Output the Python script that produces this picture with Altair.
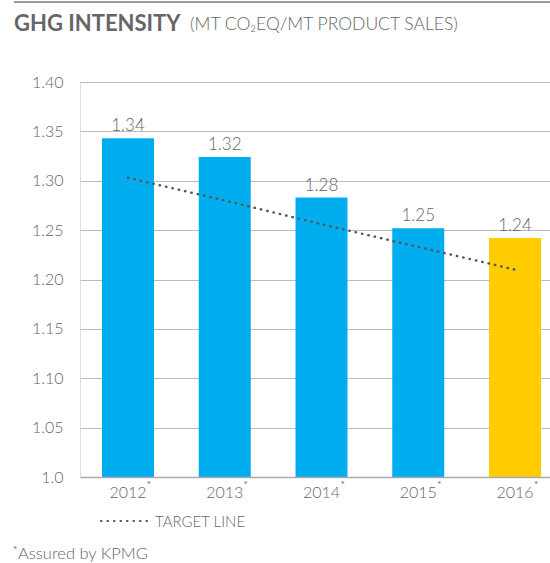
import altair as alt
import pandas as pd

years = ["2012", "2013", "2014", "2015", "2016"]
intensity = [1.343, 1.324, 1.283, 1.252, 1.242]
target = [1.303, 1.280, 1.256, 1.233, 1.210]
highlight = ["past", "past", "past", "past", "latest"]
y_ticks = [1.0, 1.05, 1.10, 1.15, 1.20, 1.25, 1.30, 1.35, 1.40]

df = pd.DataFrame({"year": years, "value": intensity, "target": target, "kind": highlight})

FONT = "Lato"
GREY = "#666666"
W = 300

xscale = alt.Scale(domain=years, paddingInner=0.4625, paddingOuter=0.16, align=0.71)
yscale = alt.Scale(domain=[1.0, 1.40], zero=False, nice=False)

base = alt.Chart(df)

bars = base.mark_bar().encode(
    x=alt.X("year:N", scale=xscale, sort=years,
            axis=alt.Axis(title=None, labelFont=FONT, labelFontSize=16, labelColor=GREY,
                          labelFontWeight=W,
                          labelAngle=0, ticks=False, domain=True, domainColor="#aaaaaa",
                          domainWidth=1.5, labelPadding=7, grid=False, zindex=1)),
    y=alt.Y("value:Q", scale=yscale,
            axis=alt.Axis(title=None, values=y_ticks, labelFont=FONT, labelFontSize=16,
                          labelFontWeight=W,
                          labelColor=GREY, ticks=False, domain=False, gridColor="#bbbbbb",
                          gridWidth=1.2, labelPadding=17,
                          labelExpr="datum.value == 1 ? '1.0' : format(datum.value, '.2f')")),
    y2=alt.datum(1.0),
    color=alt.Color("kind:N", scale=alt.Scale(domain=["past", "latest"], range=["#00AEEF", "#FFCC00"]),
                    legend=None),
)

labels = base.mark_text(font=FONT, fontSize=17, fontWeight=W, color=GREY, baseline="alphabetic", dy=-7).encode(
    x=alt.X("year:N", scale=xscale, sort=years),
    y=alt.Y("value:Q", scale=yscale),
    text=alt.Text("value:Q", format=".2f"),
)

stars = base.mark_text(font=FONT, fontSize=10, color=GREY, baseline="top", dx=21).encode(
    x=alt.X("year:N", scale=xscale, sort=years),
    y=alt.value(398),
    text=alt.value("*"),
)

tline = base.mark_line(color="#555555", strokeWidth=2.4, strokeDash=[0.5, 6], strokeCap="round").encode(
    x=alt.X("year:N", scale=xscale, sort=years),
    y=alt.Y("target:Q", scale=yscale),
)

one = pd.DataFrame({"a": [0]})
o = alt.Chart(one)

top_rule = o.mark_rule(color="#9a9a9a", strokeWidth=2).encode(
    x=alt.value(-66), x2=alt.value(470), y=alt.value(-80))
title1 = o.mark_text(font=FONT, fontSize=22, fontWeight="bold", color=GREY, align="left",
                     baseline="alphabetic").encode(x=alt.value(-66), y=alt.value(-51),
                                                   text=alt.value("GHG INTENSITY"))
title2 = o.mark_text(font=FONT, fontSize=17.5, fontWeight=W, color=GREY, align="left",
                     baseline="alphabetic").encode(x=alt.value(110), y=alt.value(-52),
                                                   text=alt.value("(MT CO₂EQ/MT PRODUCT SALES)"))
leg_line = o.mark_rule(color="#555555", strokeWidth=2.2, strokeDash=[0.5, 6], strokeCap="round").encode(
    x=alt.value(21), x2=alt.value(72), y=alt.value(439))
leg_text = o.mark_text(font=FONT, fontSize=15, fontWeight=W, color=GREY, align="left", baseline="middle").encode(
    x=alt.value(75), y=alt.value(440), text=alt.value("TARGET LINE"))
foot_star = o.mark_text(font=FONT, fontSize=10, color=GREY, align="left", baseline="top").encode(
    x=alt.value(-67), y=alt.value(463), text=alt.value("*"))
foot_text = o.mark_text(font=FONT, fontSize=16.5, fontWeight=W, color=GREY, align="left", baseline="alphabetic").encode(
    x=alt.value(-62), y=alt.value(477), text=alt.value("Assured by KPMG"))

chart = alt.layer(
    bars, tline, labels, stars, top_rule, title1, title2, leg_line, leg_text, foot_star, foot_text
).properties(
    width=470, height=395,
    autosize=alt.AutoSizeParams(type="none"),
    padding={"left": 80, "top": 82, "right": 0, "bottom": 86},
).configure_view(stroke=None).configure(background="white")

chart.save("out.html", embed_options={"renderer": "svg", "actions": False})
